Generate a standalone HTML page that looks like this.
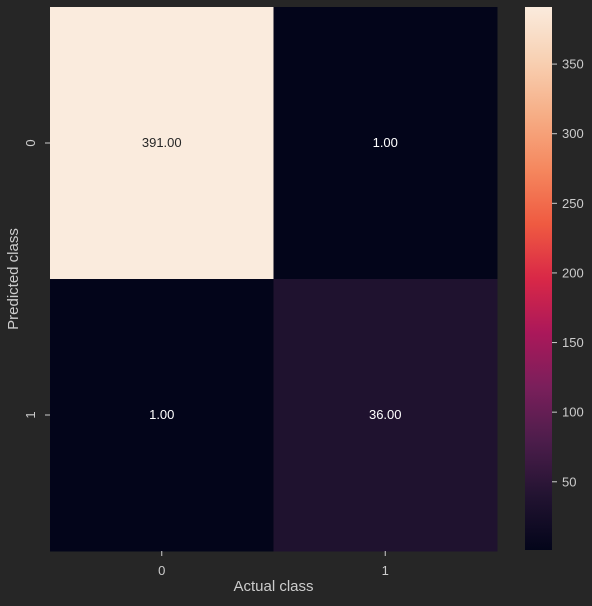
<!DOCTYPE html>
<html><head><meta charset="utf-8"><style>
body{margin:0;background:#262626;width:592px;height:601px;overflow:hidden;font-family:"Liberation Sans",sans-serif}
</style></head><body>
<svg width="592" height="601">
<defs><linearGradient id="rocket" x1="0" y1="1" x2="0" y2="0">
<stop offset="0" stop-color="#03051a"/><stop offset="0.1" stop-color="#221331"/><stop offset="0.2" stop-color="#4c1d4b"/><stop offset="0.3" stop-color="#7a1f5b"/><stop offset="0.4" stop-color="#ab185a"/><stop offset="0.5" stop-color="#d92847"/><stop offset="0.6" stop-color="#ef5a41"/><stop offset="0.7" stop-color="#f5875e"/><stop offset="0.8" stop-color="#f6ad85"/><stop offset="0.9" stop-color="#f8d0b2"/><stop offset="1" stop-color="#faebdd"/>
</linearGradient></defs>
<g id="plot"></g>
</svg>
<script>
const xCats=["0","1"];
const yCats=["0","1"];
const values=[[391,1],[1,36]];
const cbTicks=[50,100,150,200,250,300,350];
const vmin=1,vmax=391;
const stops=[[0,[3,5,26]],[0.1,[34,19,49]],[0.2,[76,29,75]],[0.3,[122,31,91]],[0.4,[171,24,90]],[0.5,[217,40,71]],[0.6,[239,90,65]],[0.7,[245,135,94]],[0.8,[246,173,133]],[0.9,[248,208,178]],[1,[250,235,221]]];
function cmap(v){let t=(v-vmin)/(vmax-vmin);t=Math.max(0,Math.min(1,t));for(let i=1;i<stops.length;i++){if(t<=stops[i][0]){const a=stops[i-1],b=stops[i],f=(t-a[0])/(b[0]-a[0]);const c=a[1].map((x,k)=>Math.round(x+(b[1][k]-x)*f));return `rgb(${c})`;}}return 'rgb(250,235,221)';}
const L=50,R=497,T=7,B=551;
const cw=(R-L)/xCats.length,ch=(B-T)/yCats.length;
const xs=i=>L+i*cw, ys=j=>T+j*ch;
const cbL=525,cbW=27,cbT=7,cbB=550;
const cy=v=>cbT+(vmax-v)/(vmax-vmin)*(cbB-cbT);
const ns="http://www.w3.org/2000/svg";
const g=document.getElementById('plot');
function mk(tag,attrs,txt){const e=document.createElementNS(ns,tag);for(const k in attrs)e.setAttribute(k,attrs[k]);if(txt!==undefined)e.textContent=txt;g.appendChild(e);return e;}
values.forEach((row,j)=>row.forEach((v,i)=>{
 const r=mk('rect',{x:xs(i),y:ys(j),width:cw+0.5,height:ch+0.5,fill:cmap(v)});
 
 
 const t=mk('text',{x:xs(i)+cw/2,y:ys(j)+ch/2+4,'text-anchor':'middle','font-size':13,fill:(v-vmin)/(vmax-vmin)>0.5?'#262626':'#ffffff'},v.toFixed(2));
 
 
}));
xCats.forEach((c,i)=>{const x=xs(i)+cw/2;
 const l=mk('line',{x1:x,x2:x,y1:B,y2:B+5,stroke:'#cccccc'});
 const t=mk('text',{x:x,y:B+24,'text-anchor':'middle','font-size':13,fill:'#cccccc'},c);});
yCats.forEach((c,j)=>{const y=ys(j)+ch/2;
 const l=mk('line',{x1:L-5,x2:L,y1:y,y2:y,stroke:'#cccccc'});
 const t=mk('text',{x:0,y:0,'text-anchor':'middle','font-size':13,fill:'#cccccc',transform:`translate(35,${y}) rotate(-90)`},c);});
let e=mk('text',{x:(L+R)/2,y:591,'text-anchor':'middle','font-size':15,fill:'#cccccc'},'Actual class');

e=mk('text',{x:0,y:0,'text-anchor':'middle','font-size':15,fill:'#cccccc',transform:`translate(18,${(T+B)/2}) rotate(-90)`},'Predicted class');

e=mk('rect',{x:cbL,y:cbT,width:cbW,height:cbB-cbT,fill:'url(#rocket)'});

cbTicks.forEach(v=>{const y=cy(v);
 const l=mk('line',{x1:cbL+cbW,x2:cbL+cbW+5,y1:y,y2:y,stroke:'#cccccc'});
 const t=mk('text',{x:cbL+cbW+10,y:y+4.5,'font-size':13,fill:'#cccccc'},String(v));});
</script>
</body></html>
